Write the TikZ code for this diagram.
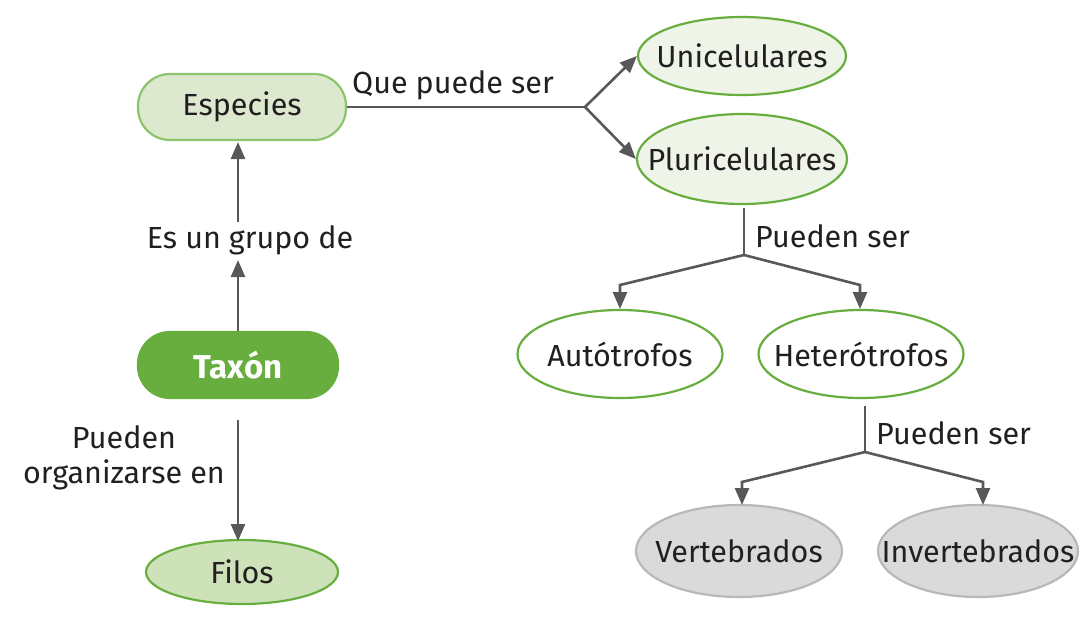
\documentclass[tikz,border=0pt]{standalone}
\usepackage{fontspec}
\setmainfont{Fira Sans}
\usetikzlibrary{shapes.geometric,arrows.meta}
\definecolor{lgreen}{HTML}{DCE9CF}
\definecolor{lborder}{HTML}{8CC46E}
\definecolor{dgreen}{HTML}{67AE3F}
\definecolor{filosfill}{HTML}{CDE2B8}
\definecolor{palefill}{HTML}{EEF5E8}
\definecolor{grayfill}{HTML}{DADADA}
\definecolor{grayborder}{HTML}{B8B8B8}
\definecolor{linecol}{HTML}{58585A}
\definecolor{txt}{HTML}{231F20}
\tikzset{
  every node/.style={font=\fontsize{30.5}{35}\selectfont, text=txt},
  pill/.style={rectangle, rounded corners=32pt, minimum width=208pt, minimum height=66pt, inner sep=0pt, line width=2.2pt},
  oval/.style={ellipse, minimum width=205pt, minimum height=88pt, inner sep=0pt, line width=2.2pt, draw=dgreen},
  lbl/.style={inner sep=0pt},
  conn/.style={draw=linecol, line width=2.6pt},
  arr/.style={conn, -{Triangle[length=17pt,width=14pt]}},
}
\begin{document}
\begin{tikzpicture}[x=1pt,y=-1pt]
\useasboundingbox (0,0) rectangle (1082,619);
% nodes
\node[pill, fill=lgreen, draw=lborder] (esp) at (242,107) {Especies};
\node[pill, fill=dgreen, draw=dgreen, minimum width=200pt, font=\fontsize{33}{38}\selectfont\bfseries] (tax) at (238,365) {\color{white}Taxón};
\node[oval, fill=filosfill, minimum width=192pt, minimum height=64pt] (fil) at (242,572) {\clap{Filos}};
\node[oval, fill=palefill, minimum width=208pt, minimum height=78pt] (uni) at (742,56) {\clap{Unicelulares}};
\node[oval, fill=palefill, minimum width=210pt, minimum height=90pt] (plu) at (742,159) {\clap{Pluricelulares}};
\node[oval, fill=white] (aut) at (620,354) {\clap{Autótrofos}};
\node[oval, fill=white] (het) at (861,354) {\clap{Heterótrofos}};
\node[oval, fill=grayfill, draw=grayborder, minimum width=206pt, minimum height=92pt] (ver) at (739,551) {\clap{Vertebrados}};
\node[oval, fill=grayfill, draw=grayborder, minimum width=200pt, minimum height=92pt] (inv) at (978,551) {\clap{Invertebrados}};
% labels
\node[lbl] (lq) at (453,85) {Que puede ser};
\node[lbl] (le) at (250,240) {Es un grupo de};
\node[lbl, align=center] (lo) at (124,458) {Pueden\\organizarse en};
\node[lbl, anchor=west] (lp1) at (755,236) {Pueden ser};
\node[lbl, anchor=west] (lp2) at (876,433) {Pueden ser};
% coordinates
\coordinate (j1) at (585,107);
\coordinate (e1) at (238,260);
\coordinate (e2) at (238,222);
\coordinate (e3) at (238,142);
\coordinate (t1) at (238,420);
\coordinate (t2) at (238,541);
\coordinate (p0) at (744,208);
\coordinate (j2) at (744,255);
\coordinate (pl) at (620,285);
\coordinate (plt) at (620,309);
\coordinate (pr) at (860,285);
\coordinate (prt) at (860,309);
\coordinate (h0) at (865,406);
\coordinate (j3) at (865,452);
\coordinate (hl) at (742,482);
\coordinate (hlt) at (742,505);
\coordinate (hr) at (983,482);
\coordinate (hrt) at (983,505);
% connectors
\draw[conn] (esp.east) -- (j1);
\draw[arr] (j1) -- (uni.west);
\draw[arr] (j1) -- (plu.west);
\draw[arr] (tax.north) -- (e1);
\draw[arr] (e2) -- (e3);
\draw[arr] (t1) -- (t2);
\draw[conn] (p0) -- (j2);
\draw[arr] (j2) -- (pl) -- (plt);
\draw[arr] (j2) -- (pr) -- (prt);
\draw[conn] (h0) -- (j3);
\draw[arr] (j3) -- (hl) -- (hlt);
\draw[arr] (j3) -- (hr) -- (hrt);
\end{tikzpicture}
\end{document}
